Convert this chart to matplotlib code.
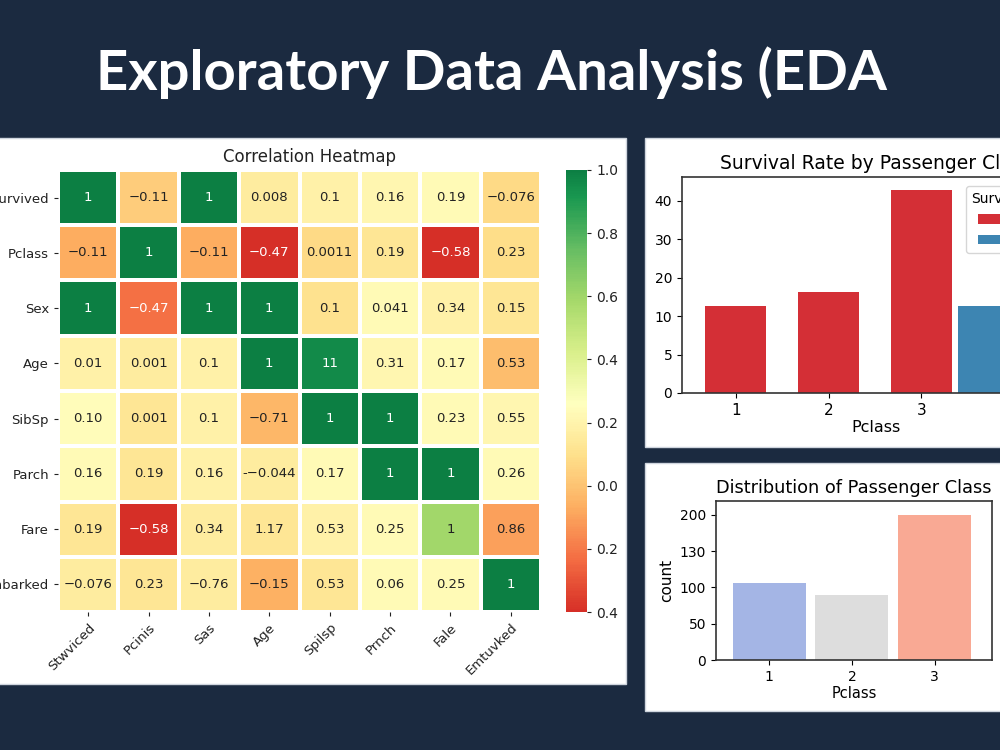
import numpy as np
import matplotlib
matplotlib.use("Agg")
import matplotlib.pyplot as plt
from matplotlib.colors import ListedColormap
from matplotlib.patches import Rectangle

W, H = 1000, 750
BG = "#1b2a40"
M = "\u2212"

# ---- heatmap data ----
row_labels = ["Survived", "Pclass", "Sex", "Age", "SibSp", "Parch", "Fare", "Embarked"]
col_labels = ["Stwviced", "Pcinis", "Sas", "Age", "Spilsp", "Prnch", "Fale", "Emtuvked"]
annot = [
    ["1", M + "0.11", "1", "0.008", "0.1", "0.16", "0.19", M + "0.076"],
    [M + "0.11", "1", M + "0.11", M + "0.47", "0.0011", "0.19", M + "0.58", "0.23"],
    ["1", M + "0.47", "1", "1", "0.1", "0.041", "0.34", "0.15"],
    ["0.01", "0.001", "0.1", "1", "11", "0.31", "0.17", "0.53"],
    ["0.10", "0.001", "0.1", M + "0.71", "1", "1", "0.23", "0.55"],
    ["0.16", "0.19", "0.16", "-" + M + "0.044", "0.17", "1", "1", "0.26"],
    ["0.19", M + "0.58", "0.34", "1.17", "0.53", "0.25", "1", "0.86"],
    [M + "0.076", "0.23", M + "0.76", M + "0.15", "0.53", "0.06", "0.25", "1"],
]
# cell shades on the colorbar scale (-0.4 .. 1.0)
shade = np.array([
    [1.00, 0.03, 1.00, 0.16, 0.19, 0.21, 0.23, 0.08],
    [-0.07, 1.00, -0.07, -0.40, 0.08, 0.13, -0.40, 0.09],
    [1.00, -0.23, 1.00, 1.00, 0.11, 0.23, 0.19, 0.13],
    [0.19, 0.16, 0.19, 1.00, 0.96, 0.21, 0.23, -0.02],
    [0.24, 0.13, 0.19, -0.04, 1.00, 1.00, 0.23, 0.21],
    [0.23, 0.13, 0.19, 0.16, 0.23, 1.00, 1.00, 0.23],
    [0.13, -0.40, 0.16, 0.13, 0.19, 0.23, 0.59, -0.10],
    [0.16, 0.13, 0.16, -0.06, 0.13, 0.23, 0.23, 1.00],
])
cbar_ticks = [-0.4, -0.2, 0.0, 0.2, 0.4, 0.6, 0.8, 1.0]
cbar_labels = ["0.4", "0.2", "0.0", "0.2", "0.4", "0.6", "0.8", "1.0"]

# ---- survival bar data ----
pclass = [1, 2, 3]
surv0 = [12.6, 16.4, 42.9]
surv1_class = [3]
surv1 = [12.6]
surv_ticks = [0, 5, 10, 20, 30, 40]

# ---- class distribution data ----
class_counts = [104, 90, 200]
count_ticks = [0, 50, 100, 130, 200]
count_colors = ["#a4b5e5", "#dddddd", "#f9a994"]


def box(l, t, r, b):
    return [l / W, 1 - b / H, (r - l) / W, (b - t) / H]


def panel(fig, l, t, r, b):
    fig.add_artist(Rectangle((l / W, 1 - b / H), (r - l) / W, (b - t) / H,
                             transform=fig.transFigure, facecolor="white",
                             edgecolor="#cfd5de", linewidth=1, zorder=0))


fig = plt.figure(figsize=(W / 100, H / 100), dpi=100)
fig.patch.set_facecolor(BG)

fig.text(96 / W, 1 - 73 / H, "Exploratory Data Analysis (EDA", color="white",
         fontsize=40.5, fontweight="bold", family=["Lato", "DejaVu Sans"],
         ha="left", va="center")

panel(fig, -5, 138, 626, 684)
panel(fig, 645, 138, 1010, 447)
panel(fig, 645, 463, 1010, 711)

# ---- heatmap ----
cmap = ListedColormap(plt.cm.RdYlGn(np.linspace(0.1, 0.95, 256)))
ax = fig.add_axes(box(58, 170, 541, 612))
mesh = ax.pcolormesh(np.arange(9), np.arange(9), shade, cmap=cmap,
                     vmin=-0.4, vmax=1.0, edgecolors="white", linewidth=1.5)
ax.set_xlim(0, 8)
ax.set_ylim(8, 0)
for sp in ax.spines.values():
    sp.set_visible(False)
for i in range(8):
    for j in range(8):
        r, g, b_, _ = cmap((shade[i, j] + 0.4) / 1.4)
        lum = 0.299 * r + 0.587 * g + 0.114 * b_
        ax.text(j + 0.5, i + 0.5, annot[i][j], ha="center", va="center",
                fontsize=9.5, color="white" if lum < 0.6 else "#222222")
ax.set_xticks(np.arange(8) + 0.5)
ax.set_xticklabels(col_labels, rotation=45, ha="right", rotation_mode="anchor")
ax.set_yticks(np.arange(8) + 0.5)
ax.set_yticklabels(row_labels)
ax.tick_params(labelsize=9.5, length=3, colors="#222222")
ax.set_title("Correlation Heatmap", fontsize=12, color="#222222", pad=6, x=0.52)

cax = fig.add_axes(box(566, 170, 587, 612))
cb = fig.colorbar(mesh, cax=cax)
cb.outline.set_visible(False)
cb.set_ticks(cbar_ticks)
cb.set_ticklabels(cbar_labels)
cax.tick_params(labelsize=10, length=3, colors="#222222")

# ---- survival rate by class ----
ax2 = fig.add_axes(box(682, 177, 1070, 393))
sx = [0, 5, 10, 20, 30, 40, 50]
sp_ = [0, 1, 2, 3, 4, 5, 6]
ax2.set_yscale("function", functions=(lambda y: np.interp(y, sx, sp_),
                                      lambda p: np.interp(p, sp_, sx)))
ax2.bar(pclass, surv0, width=0.66, color="#d42f36", label="0")
ax2.bar([c + 0.72 for c in surv1_class], surv1, width=0.66, color="#3d85b2", label="1")
ax2.set_ylim(0, 46.2)
ax2.set_xlim(0.42, 4.6)
ax2.set_yticks(surv_ticks)
ax2.set_yticklabels([str(t) for t in surv_ticks])
ax2.set_xticks(pclass)
ax2.tick_params(axis="y", labelsize=10)
ax2.tick_params(axis="x", labelsize=11)
ax2.set_xlabel("Pclass", fontsize=11.5, labelpad=2)
ax2.set_title("Survival Rate by Passenger Class", fontsize=13.5, pad=6)
for sp in ax2.spines.values():
    sp.set_color("#333333")
    sp.set_linewidth(1.2)
ax2.legend(title="Survived", loc="upper left", bbox_to_anchor=(966 / W, 1 - 186 / H),
           bbox_transform=fig.transFigure, borderaxespad=0, fontsize=10,
           title_fontsize=10)

# ---- distribution of passenger class ----
ax3 = fig.add_axes(box(716, 501, 992, 660))
cx = [0, 50, 100, 130, 200, 250]
cp = [0, 1, 2, 3, 4, 5]
ax3.set_yscale("function", functions=(lambda y: np.interp(y, cx, cp),
                                      lambda p: np.interp(p, cp, cx)))
ax3.bar(pclass, class_counts, width=0.88, color=count_colors)
ax3.set_ylim(0, 219)
ax3.set_xlim(0.36, 3.69)
ax3.set_yticks(count_ticks)
ax3.set_yticklabels([str(t) for t in count_ticks])
ax3.set_xticks(pclass)
ax3.tick_params(labelsize=10)
ax3.set_xlabel("Pclass", fontsize=10.5, labelpad=2)
ax3.set_ylabel("count", fontsize=11)
ax3.set_title("Distribution of Passenger Class", fontsize=12.8, pad=6)
for sp in ax3.spines.values():
    sp.set_color("#333333")
    sp.set_linewidth(1.2)

fig.savefig("out.png", dpi=100, facecolor=BG)
